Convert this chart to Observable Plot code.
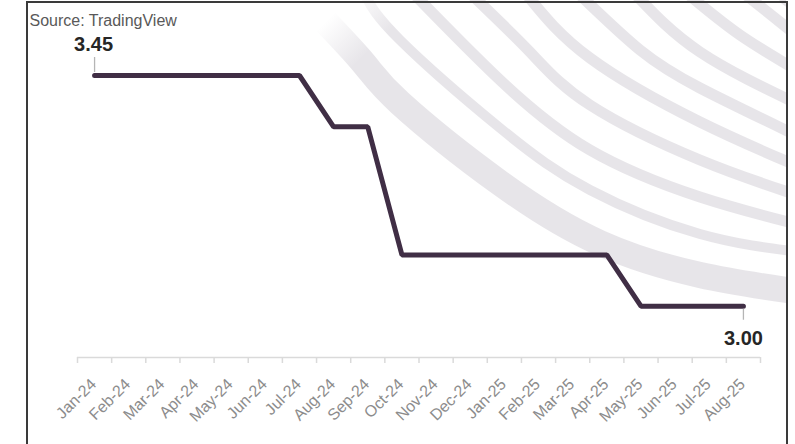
<!DOCTYPE html>
<html>
<head>
<meta charset="utf-8">
<script src="https://cdn.jsdelivr.net/npm/d3@7"></script>
<script src="https://cdn.jsdelivr.net/npm/@observablehq/plot@0.6"></script>
<style>
  body { margin: 0; background: #fff; }
  #wrap { position: relative; width: 795px; height: 444px; overflow: hidden; }
  #wrap svg { position: absolute; left: 0; top: 0; }
  #border { position: absolute; left: 26px; top: 1px; width: 758px; height: 470px;
            border: 2px solid #3a3a3a; border-bottom: none; pointer-events: none; z-index: 2; }
</style>
</head>
<body>
<div id="wrap"><div id="border"></div></div>
<script>
// ---- data ----
const months = ["Jan-24","Feb-24","Mar-24","Apr-24","May-24","Jun-24","Jul-24","Aug-24","Sep-24","Oct-24",
                "Nov-24","Dec-24","Jan-25","Feb-25","Mar-25","Apr-25","May-25","Jun-25","Jul-25","Aug-25"];
const rates = [3.45,3.45,3.45,3.45,3.45,3.45,3.45,3.35,3.35,3.10,
               3.10,3.10,3.10,3.10,3.10,3.10,3.00,3.00,3.00,3.00];
const source = "Source: TradingView";

// ---- decorative background arcs (watermark) ----
const arcs = [
  {w: 26, pts: [[300,-5],[361,60],[400,103],[500,183],[600,243],[700,275],[800,292]]},
  {w: 10, pts: [[365,-5],[400,40],[500,128],[590,190],[700,234],[800,252]]},
  {w: 11, pts: [[415,-5],[500,80],[590,150],[700,197],[800,225]]},
  {w: 11, pts: [[472,-5],[530,52],[590,105],[700,160],[800,196]]},
  {w: 11, pts: [[527,-5],[590,58],[700,122],[800,167]]},
  {w: 11, pts: [[580,-5],[640,50],[700,88],[800,137]]},
  {w: 11, pts: [[636,-5],[700,52],[800,105]]},
  {w: 11, pts: [[689,-5],[740,35],[800,72]]},
  {w: 11, pts: [[746,-5],[800,38]]},
  {w: 11, pts: [[782,-3],[800,10]]}
];

function arcsMark() {
  const g = d3.create("svg:g");
  const defs = g.append("defs");
  const grad = defs.append("linearGradient").attr("id", "arcfade")
    .attr("gradientUnits", "userSpaceOnUse")
    .attr("x1", 335).attr("y1", 12).attr("x2", 372).attr("y2", 48);
  grad.append("stop").attr("offset", 0).attr("stop-color", "#e7e5e9").attr("stop-opacity", 0);
  grad.append("stop").attr("offset", 1).attr("stop-color", "#e7e5e9").attr("stop-opacity", 1);
  defs.append("clipPath").attr("id", "arcclip")
    .append("rect").attr("x", 28).attr("y", 0).attr("width", 758).attr("height", 444);
  const line = d3.line().curve(d3.curveNatural);
  const pg = g.append("g").attr("clip-path", "url(#arcclip)");
  for (const a of arcs) {
    pg.append("path").attr("d", line(a.pts)).attr("fill", "none")
      .attr("stroke", "url(#arcfade)").attr("stroke-width", a.w);
  }
  return g.node();
}

const data = months.map((m, i) => ({i, month: m, rate: rates[i]}));
const first = data[0];
const last = data[data.length - 1];
const boundaries = d3.range(-0.5, months.length);

const chart = Plot.plot({
  width: 795,
  height: 444,
  marginLeft: 77,
  marginRight: 35,
  marginTop: 75,
  marginBottom: 87,
  style: {fontFamily: "'Liberation Sans', Arial, sans-serif", background: "transparent"},
  x: {type: "linear", domain: [-0.5, months.length - 0.5], axis: null},
  y: {domain: [2.9, 3.45], axis: null},
  marks: [
    arcsMark,
    // axis baseline
    Plot.ruleY([2.9], {stroke: "#dadada", strokeWidth: 1.5}),
    // tick marks between categories
    Plot.ruleX(boundaries, {x: d => d, y1: () => 2.9, y2: () => 2.9, insetTop: 0, insetBottom: -6,
                            stroke: "#dadada", strokeWidth: 1.5}),
    // category labels
    Plot.text(data, {x: "i", y: () => 2.9, text: "month", rotate: -45, textAnchor: "end",
                     lineAnchor: "middle", dy: 24, dx: -1, fontSize: 16, fill: "#8c8c8c"}),
    // series line
    Plot.line(data, {x: "i", y: "rate", stroke: "#402e45", strokeWidth: 5,
                     strokeLinejoin: "miter", strokeLinecap: "round"}),
    // leader lines
    Plot.ruleX([first], {x: "i", y1: "rate", y2: "rate", insetTop: -18, insetBottom: 3,
                         stroke: "#b5b5b5", strokeWidth: 1.3}),
    Plot.ruleX([last], {x: "i", y1: "rate", y2: "rate", insetTop: 3, insetBottom: -14,
                        stroke: "#b5b5b5", strokeWidth: 1.3}),
    // value labels
    Plot.text([first], {x: "i", y: "rate", text: d => d.rate.toFixed(2), dy: -25, dx: -1,
                        lineAnchor: "bottom", fontSize: 20, fontWeight: "bold", fill: "#262626"}),
    Plot.text([last], {x: "i", y: "rate", text: d => d.rate.toFixed(2), dy: 39,
                       lineAnchor: "bottom", fontSize: 20, fontWeight: "bold", fill: "#262626"}),
    // source
    Plot.text([source], {frameAnchor: "top-left", dx: -48, dy: -50, textAnchor: "start",
                         lineAnchor: "bottom", fontSize: 16, fill: "#595959"})
  ]
});
document.getElementById("wrap").appendChild(chart);
</script>
</body>
</html>
